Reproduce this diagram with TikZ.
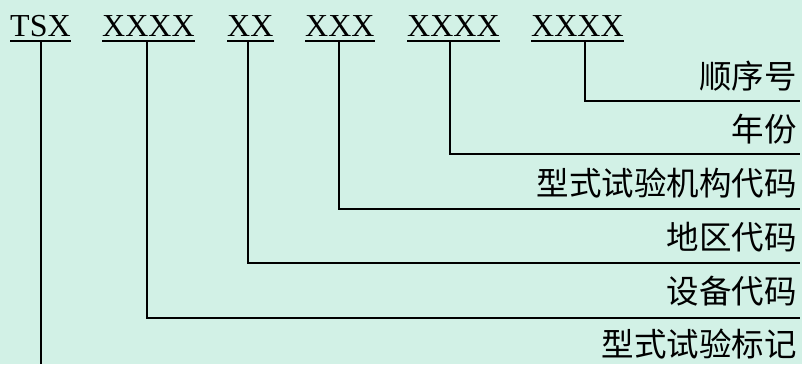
\documentclass[tikz,border=0pt]{standalone}
\usepackage{fontspec}
\setmainfont{Liberation Serif}
\newfontfamily\cjk{Noto Sans CJK SC}
\definecolor{bgc}{RGB}{210,241,230}
\begin{document}
\begin{tikzpicture}[x=1pt,y=-1pt,
  code/.style={inner sep=0pt,anchor=base west,font=\fontsize{32}{36}\selectfont},
  lab/.style={inner sep=0pt,anchor=east,font=\cjk\fontsize{32.5}{36}\selectfont},
  ln/.style={line width=1.8pt,black},
  ul/.style={line width=1.8pt,black}]
\fill[bgc] (0,0) rectangle (802,364);
\useasboundingbox (0,0) rectangle (802,364);
% codes
\node[code] (c1) at (10,36) {TSX};
\node[code] (c2) at (102,36) {XXXX};
\node[code] (c3) at (227,36) {XX};
\node[code] (c4) at (305,36) {XXX};
\node[code] (c5) at (407,36) {XXXX};
\node[code] (c6) at (531,36) {XXXX};
\foreach \n in {c1,c2,c3,c4,c5,c6}{
  \draw[ul] ([yshift=-5pt]\n.base west) -- ([yshift=-5pt]\n.base east);
}
% labels
\node[lab] (l6) at (797,76) {顺序号};
\node[lab] (l5) at (797,129) {年份};
\node[lab] (l4) at (797,183) {型式试验机构代码};
\node[lab] (l3) at (797,237) {地区代码};
\node[lab] (l2) at (797,291) {设备代码};
\node[lab] (l1) at (797,344) {型式试验标记};
% connector points
\coordinate (t1) at (41,41);
\coordinate (t2) at (147,41);
\coordinate (t3) at (248,41);
\coordinate (t4) at (339,41);
\coordinate (t5) at (450,41);
\coordinate (t6) at (585,41);
\coordinate (e2) at (800,318);
\coordinate (e3) at (800,263);
\coordinate (e4) at (800,209);
\coordinate (e5) at (800,154);
\coordinate (e6) at (800,101);
\coordinate (b1) at (41,364);
\draw[ln] (t1) -- (b1);
\draw[ln] (t2) |- (e2);
\draw[ln] (t3) |- (e3);
\draw[ln] (t4) |- (e4);
\draw[ln] (t5) |- (e5);
\draw[ln] (t6) |- (e6);
\end{tikzpicture}
\end{document}
